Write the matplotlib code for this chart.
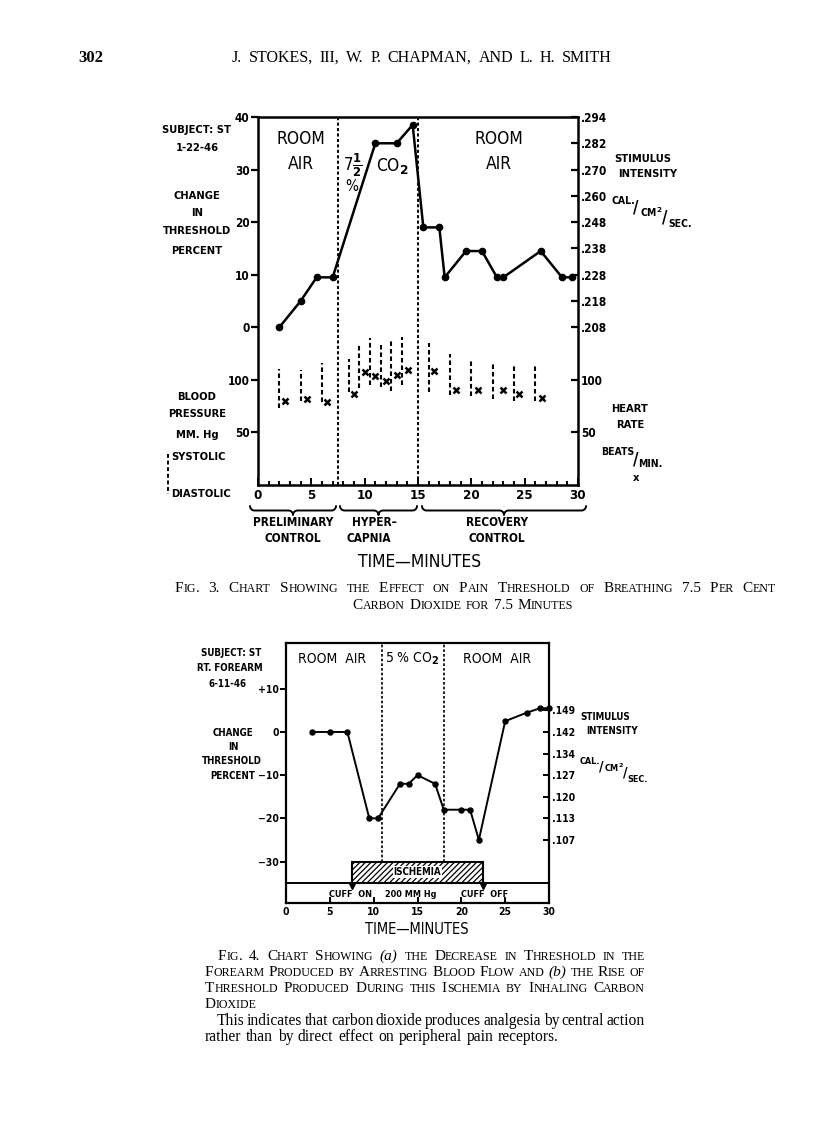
import numpy as np
import matplotlib
matplotlib.use("Agg")
import matplotlib.pyplot as plt
from matplotlib.patches import Rectangle
from matplotlib.lines import Line2D

# ---------------- data: Fig. 3 ----------------
f3_time = [2, 4, 5.5, 7, 11, 13, 14.5, 15.5, 17, 17.5, 19.5, 21, 22.4, 23, 26.5, 28.5, 29.4]
f3_threshold = [0, 5, 9.5, 9.5, 35, 35, 38.5, 19, 19, 9.5, 14.5, 14.5, 9.5, 9.5, 14.5, 9.5, 9.5]
bp_time = [2, 4, 6, 8.5, 9.5, 10.5, 11.5, 12.5, 13.5, 16, 18, 20, 22, 24, 26]
systolic = [110, 109, 116, 120, 134, 140, 133, 139, 141, 135, 125, 120, 117, 115, 115]
diastolic = [73, 80, 79, 88, 92, 95, 93, 89, 95, 88, 86, 85, 82, 80, 80]
hr_time = [2.5, 4.6, 6.5, 9, 10, 11, 12, 13, 14.1, 16.5, 18.6, 20.6, 23, 24.5, 26.6]
heart_rate = [80, 82, 79, 87, 107, 104, 99, 105, 109, 108, 90, 90, 90, 87, 83]
f3_phase_bounds = [7.5, 15]
f3_left_ticks = [40, 30, 20, 10, 0]
f3_bp_ticks = [100, 50]
f3_stim_pos = [40, 35, 30, 25, 20, 15, 10, 5, 0]
f3_stim_labels = ['.294', '.282', '.270', '.260', '.248', '.238', '.228', '.218', '.208']
f3_xticks = [0, 5, 10, 15, 20, 25, 30]

# ---------------- data: Fig. 4 ----------------
f4_time = [3, 5, 7, 9.5, 10.5, 13, 14, 15, 17, 18, 20, 21, 22, 25, 27.5, 29, 30]
f4_change = [0, 0, 0, -20, -20, -12, -12, -10, -12, -18, -18, -18, -25, 2.5, 4.5, 5.5, 5.5]
f4_phase_bounds = [11, 18]
f4_ischemia = [7.5, 22.5]
f4_cuff_level = -35
f4_box_top = -30
f4_left_ticks = [10, 0, -10, -20, -30]
f4_left_labels = ['+10', '0', '\u221210', '\u221220', '\u221230']
f4_stim_pos = [5, 0, -5, -10, -15, -20, -25]
f4_stim_labels = ['.149', '.142', '.134', '.127', '.120', '.113', '.107']
f4_xticks = [0, 5, 10, 15, 20, 25, 30]

# ---------------- figure helpers ----------------
W, H = 816, 1130
fig = plt.figure(figsize=(W / 100, H / 100), dpi=100)
fig.patch.set_facecolor('white')
plt.rcParams['mathtext.fontset'] = 'dejavusans'
plt.rcParams['hatch.linewidth'] = 0.9

LET = dict(family='DejaVu Sans', fontweight='bold', fontstretch='condensed')
LETN = dict(family='DejaVu Sans', fontweight='normal', fontstretch='condensed')


def ftext(x, y, s, **kw):
    kw.setdefault('ha', 'center')
    kw.setdefault('va', 'center')
    return fig.text(x / W, 1 - y / H, s, **kw)


def add_ax(l, t, r, b):
    return fig.add_axes([l / W, 1 - b / H, (r - l) / W, (b - t) / H])


def fig_line(xs, ys, **kw):
    fig.add_artist(Line2D([x / W for x in xs], [1 - y / H for y in ys],
                          transform=fig.transFigure, **kw))


def brace(x1, x2, y, h, lw=1.4):
    r = h / 2.0
    xm = (x1 + x2) / 2.0
    pts = []
    t = np.linspace(np.pi, np.pi / 2, 12)
    pts += list(zip(x1 + r + r * np.cos(t), y + r * np.sin(t)))
    t = np.linspace(-np.pi / 2, 0, 12)
    pts += list(zip(xm - r + r * np.cos(t), y + 2 * r + r * np.sin(t)))
    t = np.linspace(np.pi, 3 * np.pi / 2, 12)
    pts += list(zip(xm + r + r * np.cos(t), y + 2 * r + r * np.sin(t)))
    t = np.linspace(np.pi / 2, 0, 12)
    pts += list(zip(x2 - r + r * np.cos(t), y + r * np.sin(t)))
    xs, ys = zip(*pts)
    fig_line(xs, ys, color='k', lw=lw, solid_capstyle='round')


def style_spines(a, lw=1.8):
    for s in a.spines.values():
        s.set_linewidth(lw)


# ===================== Fig. 3 =====================
ax = add_ax(258, 117, 578, 485)
ax.set_xlim(0, 30)
ax.set_ylim(-30, 40)
style_spines(ax)
ax.set_xticks(f3_xticks, [str(v) for v in f3_xticks], fontsize=9.5, **LET)
ax.set_xticks(range(0, 31), minor=True)
ax.tick_params(axis='x', which='both', direction='in', width=1.4)
ax.tick_params(axis='x', which='major', length=5, pad=3)
ax.tick_params(axis='x', which='minor', length=3)
ax.set_yticks(f3_left_ticks, [str(v) for v in f3_left_ticks], fontsize=8.5, **LET)
ax.tick_params(axis='y', direction='out', length=5, width=1.6, pad=1)

for xb in f3_phase_bounds:
    ax.axvline(xb, color='k', lw=1.4, ls=(0, (1.6, 1.2)))
ax.plot(f3_time, f3_threshold, '-o', color='k', lw=1.8, ms=4.5, clip_on=False, zorder=5)

# blood pressure scale (left)
ax_bp = ax.twinx()
ax_bp.set_ylim(0, 350)
ax_bp.yaxis.tick_left()
ax_bp.set_yticks(f3_bp_ticks, [str(v) for v in f3_bp_ticks], fontsize=8.5, **LET)
ax_bp.tick_params(axis='y', direction='out', length=5, width=1.6, pad=1)
for s in ax_bp.spines.values():
    s.set_visible(False)
ax_bp.vlines(bp_time, diastolic, systolic, colors='k', lw=1.5, linestyles=(0, (2.2, 1.4)))
ax_bp.plot(hr_time, heart_rate, 'x', color='k', ms=5, mew=1.8)

# stimulus intensity scale (right)
ax_st = ax.twinx()
ax_st.set_ylim(-30, 40)
ax_st.set_yticks(f3_stim_pos, f3_stim_labels, fontsize=8.5, **LET)
ax_st.tick_params(axis='y', direction='in', length=5, width=1.6, pad=2)
for s in ax_st.spines.values():
    s.set_visible(False)

# heart rate scale (right)
ax_hr = ax.twinx()
ax_hr.set_ylim(0, 350)
ax_hr.set_yticks(f3_bp_ticks, [str(v) for v in f3_bp_ticks], fontsize=8.5, **LET)
ax_hr.tick_params(axis='y', direction='in', length=5, width=1.6, pad=2)
for s in ax_hr.spines.values():
    s.set_visible(False)

# in-plot lettering
ax.text(4, 35.9, 'ROOM', ha='center', va='center', fontsize=12.5, **LETN)
ax.text(4, 31.0, 'AIR', ha='center', va='center', fontsize=12.5, **LETN)
ax.text(22.6, 35.9, 'ROOM', ha='center', va='center', fontsize=12.5, **LETN)
ax.text(22.6, 31.0, 'AIR', ha='center', va='center', fontsize=12.5, **LETN)
ax.text(8.9, 30.8, r'7$\mathbf{\frac{1}{2}}$', ha='center', va='center', fontsize=12, **LETN)
ax.text(8.8, 26.8, '%', ha='center', va='center', fontsize=11, **LETN)
ax.text(12.6, 30.6, r'CO$_\mathbf{2}$', ha='center', va='center', fontsize=12.5, **LETN)

# left labels
for s, y in [('SUBJECT: ST', 130), ('1-22-46', 148), ('CHANGE', 196), ('IN', 213),
             ('THRESHOLD', 231), ('PERCENT', 251), ('BLOOD', 397), ('PRESSURE', 414),
             ('MM. Hg', 435)]:
    ftext(197, y, s, fontsize=8, **LET)
ftext(171, 457, 'SYSTOLIC', ha='left', fontsize=8, **LET)
ftext(171, 494, 'DIASTOLIC', ha='left', fontsize=8, **LET)
fig_line([168, 168], [454, 494], color='k', lw=1.4, ls=(0, (2, 1.4)))

# right labels
ftext(643, 159, 'STIMULUS', fontsize=8, **LET)
ftext(648, 174, 'INTENSITY', fontsize=8, **LET)
ftext(623, 201, 'CAL.', fontsize=7.5, **LET)
ftext(636, 208, '/', fontsize=12, **LET)
ftext(651, 212, r'CM$^\mathbf{2}$', fontsize=7.5, **LET)
ftext(665, 218, '/', fontsize=12, **LET)
ftext(680, 224, 'SEC.', fontsize=7.5, **LET)
ftext(630, 409, 'HEART', fontsize=8, **LET)
ftext(630, 425, 'RATE', fontsize=8, **LET)
ftext(618, 452, 'BEATS', fontsize=7.5, **LET)
ftext(636, 459, '/', fontsize=12, **LET)
ftext(650, 464, 'MIN.', fontsize=7.5, **LET)
ftext(636, 478, 'x', fontsize=8, **LET)

# braces and phase labels
brace(250, 336, 506, 9)
brace(340, 417, 506, 9)
brace(422, 586, 506, 9)
ftext(293, 522, 'PRELIMINARY', fontsize=8.5, **LET)
ftext(293, 538, 'CONTROL', fontsize=8.5, **LET)
ftext(374, 522, 'HYPER\u2013', fontsize=8.5, **LET)
ftext(369, 538, 'CAPNIA', fontsize=8.5, **LET)
ftext(497, 522, 'RECOVERY', fontsize=8.5, **LET)
ftext(497, 538, 'CONTROL', fontsize=8.5, **LET)
ftext(420, 562, 'TIME\u2014MINUTES', fontsize=12.5, **LETN)

# ===================== Fig. 4 =====================
bx = add_ax(286, 643, 549, 903)
bx.set_xlim(0, 30)
bx.set_ylim(-39.6, 20.6)
style_spines(bx, 1.6)
bx.set_xticks(f4_xticks, [str(v) for v in f4_xticks], fontsize=7.5, **LET)
bx.tick_params(axis='x', direction='in', length=4, width=1.4, pad=3)
bx.set_yticks(f4_left_ticks, f4_left_labels, fontsize=7.5, **LET)
bx.tick_params(axis='y', direction='out', length=4, width=1.4, pad=1)

bx.axhline(f4_cuff_level, color='k', lw=1.4)
bx.vlines(f4_phase_bounds, f4_box_top, 20.6, colors='k', lw=1.2, linestyles=(0, (1.6, 1.2)))
bx.add_patch(Rectangle((f4_ischemia[0], f4_cuff_level), f4_ischemia[1] - f4_ischemia[0],
                       f4_box_top - f4_cuff_level, facecolor='white', edgecolor='k',
                       hatch='//////', lw=1.5, zorder=3))
bx.text(sum(f4_ischemia) / 2, (f4_box_top + f4_cuff_level) / 2, 'ISCHEMIA', ha='center',
        va='center', fontsize=7, zorder=4,
        bbox=dict(facecolor='white', edgecolor='none', pad=0.6), **LET)
bx.plot(f4_ischemia, [f4_cuff_level - 0.6] * 2, 'v', color='k', ms=4, zorder=4)
bx.text(7.4, -37.7, 'CUFF  ON', ha='center', va='center', fontsize=6.5, **LET)
bx.text(14.2, -37.7, '200 MM Hg', ha='center', va='center', fontsize=6.5, **LET)
bx.text(22.6, -37.7, 'CUFF  OFF', ha='center', va='center', fontsize=6.5, **LET)

bx.plot(f4_time, f4_change, '-o', color='k', lw=1.4, ms=3.6, clip_on=False, zorder=5)

bx.text(5.3, 16.9, 'ROOM  AIR', ha='center', va='center', fontsize=10, **LETN)
bx.text(14.4, 16.9, r'5 % CO$_\mathbf{2}$', ha='center', va='center', fontsize=10, **LETN)
bx.text(24.1, 16.9, 'ROOM  AIR', ha='center', va='center', fontsize=10, **LETN)

bx_st = bx.twinx()
bx_st.set_ylim(-39.6, 20.6)
bx_st.set_yticks(f4_stim_pos, f4_stim_labels, fontsize=7.5, **LET)
bx_st.tick_params(axis='y', direction='in', length=4, width=1.4, pad=2)
for s in bx_st.spines.values():
    s.set_visible(False)

for s, x, y in [('SUBJECT: ST', 231, 653), ('RT. FOREARM', 230, 668), ('6-11-46', 228, 684),
                ('CHANGE', 233, 733), ('IN', 233, 747), ('THRESHOLD', 232, 761),
                ('PERCENT', 233, 776)]:
    ftext(x, y, s, fontsize=7, **LET)
ftext(605, 717, 'STIMULUS', fontsize=7, **LET)
ftext(612, 731, 'INTENSITY', fontsize=7, **LET)
ftext(590, 761, 'CAL.', fontsize=6.5, **LET)
ftext(601, 766, '/', fontsize=10, **LET)
ftext(614, 768, r'CM$^\mathbf{2}$', fontsize=6.5, **LET)
ftext(625, 773, '/', fontsize=10, **LET)
ftext(638, 779, 'SEC.', fontsize=6.5, **LET)
ftext(417, 930, 'TIME\u2014MINUTES', fontsize=10.5, **LETN)

# ===================== page text =====================
R = fig.canvas.get_renderer()
SERIF = 'Liberation Serif'


def sc_pieces(word, big, small):
    if word in ('(a)', '(b)'):
        return [(word, big, 'italic')]
    runs = []
    for ch in word:
        isbig = not ch.islower()
        if runs and runs[-1][3] == isbig:
            runs[-1][0] += ch
        else:
            runs.append([ch, big if isbig else small, 'normal', isbig])
    return [(r[0].upper(), r[1], r[2]) for r in runs]


def text_line(line, y, x0=None, x1=None, xc=None, big=11, small=8.6,
              smallcaps=True, weight='normal'):
    groups = []
    for w in line.split():
        pieces = sc_pieces(w, big, small) if smallcaps else [(w, big, 'normal')]
        arts, wsum = [], 0.0
        for s, sz, st in pieces:
            t = fig.text(0, 0, s, fontsize=sz, style=st, family=SERIF,
                         fontweight=weight, ha='left', va='baseline')
            arts.append((t, wsum))
            wsum += t.get_window_extent(renderer=R).width
        groups.append((arts, wsum))
    total = sum(g[1] for g in groups)
    n = len(groups)
    if x0 is not None and x1 is not None and n > 1:
        gap = (x1 - x0 - total) / (n - 1)
    else:
        gap = big * 100 / 72 * 0.3
    width = total + gap * (n - 1)
    if xc is not None:
        x0 = xc - width / 2
    x = x0
    for arts, wsum in groups:
        for t, off in arts:
            t.set_position(((x + off) / W, 1 - y / H))
        x += wsum + gap


text_line('302', 62, x0=78, big=12, smallcaps=False, weight='bold')
text_line('J. STOKES, III, W. P. CHAPMAN, AND L. H. SMITH', 62, x0=232, x1=612,
          big=11.5, smallcaps=False)

text_line('Fig. 3. Chart Showing the Effect on Pain Threshold of Breathing 7.5 Per Cent',
          592, x0=175, x1=776)
text_line('Carbon Dioxide for 7.5 Minutes', 609, xc=463)

text_line('Fig. 4. Chart Showing (a) the Decrease in Threshold in the', 960, x0=218, x1=645)
text_line('Forearm Produced by Arresting Blood Flow and (b) the Rise of', 976, x0=205, x1=645)
text_line('Threshold Produced During this Ischemia by Inhaling Carbon', 992, x0=205, x1=645)
text_line('Dioxide', 1008, x0=205)
text_line('This indicates that carbon dioxide produces analgesia by central action',
          1025, x0=217, x1=645, big=11.2, smallcaps=False)
text_line('rather than by direct effect on peripheral pain receptors.', 1041, x0=205,
          big=11.2, smallcaps=False)

fig.savefig('out.png', dpi=100, facecolor='white')
